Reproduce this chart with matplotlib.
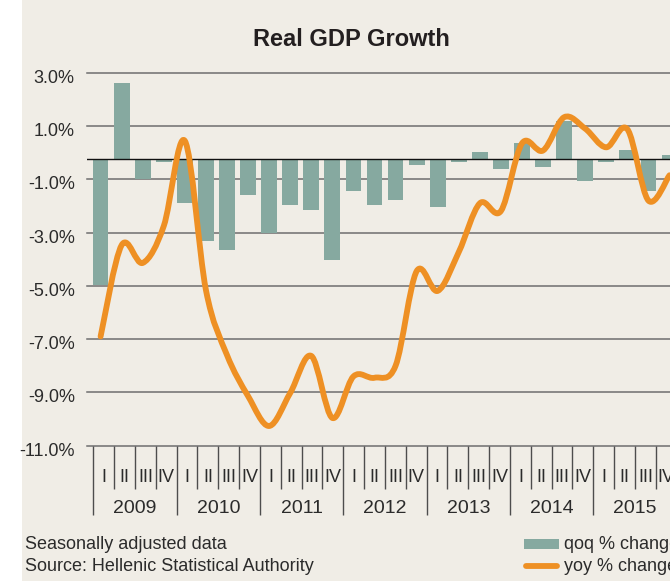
import numpy as np
import matplotlib
matplotlib.use("Agg")
import matplotlib.pyplot as plt
import matplotlib.transforms as mtransforms
from matplotlib.path import Path
from matplotlib.patches import PathPatch, Rectangle
from matplotlib.lines import Line2D

# data
years = ['2009', '2010', '2011', '2012', '2013', '2014', '2015']
quarters = ['I', 'II', 'III', 'IV']

qoq = [-4.73, 2.86, -0.75, -0.10, -1.64, -3.07, -3.42, -1.35,
       -2.79, -1.73, -1.91, -3.79, -1.19, -1.73, -1.54, -0.23,
       -1.79, -0.10, 0.26, -0.36, 0.60, -0.30, 1.43, -0.81,
       -0.10, 0.35, -1.19, 0.15]
yoy = [-6.90, -3.47, -4.14, -2.75, 0.44, -5.16, -7.60, -9.14,
       -10.26, -9.02, -7.63, -9.96, -8.40, -8.45, -8.00, -4.45,
       -5.19, -3.73, -1.90, -2.19, 0.35, 0.08, 1.33, 0.90,
       0.20, 0.88, -1.80, -0.85]

yticks = [3, 1, -1, -3, -5, -7, -9, -11]

BG = '#f0ede6'
TEAL = '#86a9a0'
ORANGE = '#ee9024'
TXT = '#2b2b2b'
FONT = ['Liberation Sans', 'DejaVu Sans']
W, H = 670, 581


def fx(px):
    return px / W


def fy(py):
    return 1 - py / H


def smooth_path(x, y):
    # excel-style smoothed line: cubic bezier through every point
    pts = np.column_stack([x, y]).astype(float)
    n = len(pts)
    verts = [pts[0]]
    codes = [Path.MOVETO]
    for i in range(n - 1):
        p0 = pts[i - 1] if i > 0 else pts[i]
        p1 = pts[i]
        p2 = pts[i + 1]
        p3 = pts[i + 2] if i + 2 < n else pts[i + 1]
        verts += [p1 + (p2 - p0) / 6, p2 - (p3 - p1) / 6, p2]
        codes += [Path.CURVE4] * 3
    return Path(verts, codes)


fig = plt.figure(figsize=(6.7, 5.81), dpi=100, facecolor=BG)
fig.add_artist(Rectangle((0, 0), fx(22), 1, transform=fig.transFigure,
                         facecolor='white', edgecolor='none', zorder=-5))

rect = [fx(87.3), fy(445.7), fx(670) - fx(87.3), fy(72.7) - fy(445.7)]
ax = fig.add_axes(rect)
ax.set_facecolor('none')
ax.set_xlim(-0.631, 27.024)
ax.set_ylim(-11, 3)
ax.set_yticks(yticks)
ax.set_yticklabels(['%.1f%%' % v for v in yticks], family=FONT,
                   fontsize=13, color=TXT)
ax.tick_params(axis='y', length=0, pad=9)
ax.set_xticks([])
ax.grid(axis='y', color='#6e6e6e', lw=1.1)
for gl in ax.get_ygridlines():
    gl.set_clip_on(False)
for s in ax.spines.values():
    s.set_visible(False)
off = mtransforms.ScaledTranslation(0, -3.5 / 100, fig.dpi_scale_trans)
for lab in ax.get_yticklabels():
    lab.set_transform(lab.get_transform() + off)

# bars sit on their own zero, a bit below the line's zero
axb = ax.twinx()
axb.set_ylim(-11 + 0.24, 3 + 0.24)
axb.axis('off')
x = np.arange(len(qoq))
axb.bar(x, qoq, width=0.75, color=TEAL, edgecolor='none')
axb.axhline(0, color='#111111', lw=1.0)

axl = ax.twinx()
axl.set_ylim(-11, 3)
axl.axis('off')
axl.add_patch(PathPatch(smooth_path(x, yoy), facecolor='none',
                        edgecolor=ORANGE, lw=4.2, capstyle='round',
                        joinstyle='round'))

# category axis below the plot
axq = fig.add_axes([fx(87.3), fy(520), fx(670) - fx(87.3), fy(445.7) - fy(520)])
axq.set_xlim(-0.788, 27.18)
axq.set_ylim(1, 0)
axq.axis('off')
nq = len(years) * 4
for k in range(nq + 1):
    long = (k % 4 == 0)
    axq.vlines(k - 0.5, 0, 0.933 if long else 0.587, color='#4d4d4d', lw=1.0,
               clip_on=False)
for i in range(nq):
    axq.text(i, 0.49, quarters[i % 4], ha='center', va='baseline',
             family=FONT, fontsize=13, color=TXT)
for j, yr in enumerate(years):
    axq.text(4 * j + 1.5, 0.90, yr, ha='center', va='baseline',
             family=FONT, fontsize=14, color=TXT)

fig.text(fx(351.7), fy(46), 'Real GDP Growth', ha='center', va='baseline',
         family=FONT, fontweight='bold', fontsize=17, color='#231f20')

fig.text(fx(25), fy(549.3), 'Seasonally adjusted data', ha='left',
         va='baseline', family=FONT, fontsize=13, color=TXT)
fig.text(fx(25), fy(570.7), 'Source: Hellenic Statistical Authority',
         ha='left', va='baseline', family=FONT, fontsize=13, color=TXT)

# legend
fig.add_artist(Rectangle((fx(524), fy(549)), fx(559) - fx(524), fy(539) - fy(549),
                         transform=fig.transFigure, facecolor=TEAL,
                         edgecolor='none'))
fig.add_artist(Line2D([fx(525.5), fx(557)], [fy(565.7), fy(565.7)],
                      transform=fig.transFigure, color=ORANGE, lw=4.2,
                      solid_capstyle='round'))
fig.text(fx(564.3), fy(549.3), 'qoq % change', ha='left', va='baseline',
         family=FONT, fontsize=13, color=TXT)
fig.text(fx(564.3), fy(570.7), 'yoy % change', ha='left', va='baseline',
         family=FONT, fontsize=13, color=TXT)

fig.savefig('out.png', dpi=100, facecolor=BG)
